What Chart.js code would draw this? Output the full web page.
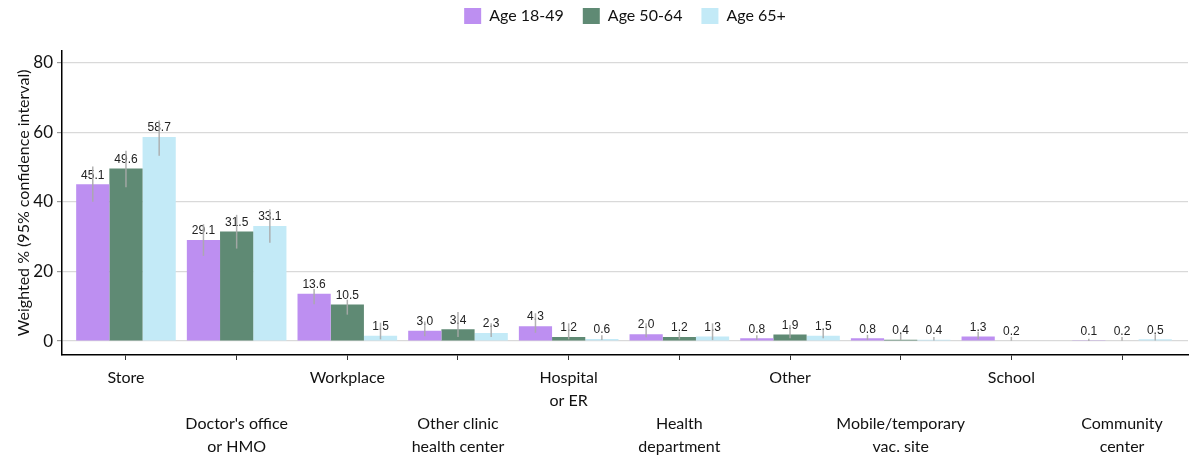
<!DOCTYPE html>
<html>
<head>
<meta charset="utf-8">
<script src="https://cdn.jsdelivr.net/npm/chart.js@4.4.1/dist/chart.umd.min.js"></script>
<style>
  html, body { margin: 0; padding: 0; background: #fff; }
</style>
</head>
<body>
<canvas id="myChart" width="1191" height="466"></canvas>
<script>
let categories = [
    ['Store'], ["Doctor's office", 'or HMO'], ['Workplace'], ['Other clinic', 'health center'],
    ['Hospital', 'or ER'], ['Health', 'department'], ['Other'], ['Mobile/temporary', 'vac. site'],
    ['School'], ['Community', 'center']
];

let age18to49 = [45.1, 29.1, 13.6, 3.0, 4.3, 2.0, 0.8, 0.8, 1.3, 0.1];
let age50to64 = [49.6, 31.5, 10.5, 3.4, 1.2, 1.2, 1.9, 0.4, 0.2, 0.2];
let age65plus = [58.7, 33.1, 1.5, 2.3, 0.6, 1.3, 1.5, 0.4, null, 0.5];

// 95% confidence interval ends
let low18to49 = [40.1, 24.5, 10.6, 1.4, 2.4, 1.1, 0.3, 0.3, 0.5, 0.0];
let high18to49 = [50.2, 33.6, 15.0, 5.6, 8.0, 5.1, 1.7, 1.8, 2.7, 0.7];
let low50to64 = [44.2, 26.6, 7.6, 1.2, 0.5, 0.5, 0.8, 0.3, 0.1, 0.1];
let high50to64 = [54.7, 36.3, 11.9, 8.4, 5.1, 2.7, 4.6, 2.1, 1.2, 1.2];
let low65plus = [53.3, 28.3, 0.5, 1.2, 0.3, 0.3, 0.8, 0.2, null, 0.2];
let high65plus = [63.4, 37.9, 5.3, 5.1, 1.7, 5.1, 3.2, 1.2, null, 2.0];

let yTicks = [0, 20, 40, 60, 80];

function points(values) {
    return values.map((v, i) => ({ x: i, y: v }));
}

// keep the legend a fixed height so the plot starts where the original does
const legendHeight = {
    id: 'legendHeight',
    beforeInit(chart) {
        const fit = chart.legend.fit;
        chart.legend.fit = function() {
            fit.bind(chart.legend)();
            this.height = 61.7;
        };
    }
};

const barExtras = {
    id: 'barExtras',
    afterDatasetsDraw(chart) {
        let c = chart.ctx;
        let y = chart.scales.y;
        c.save();
        chart.data.datasets.forEach((ds, d) => {
            chart.getDatasetMeta(d).data.forEach((bar, i) => {
                let v = ds.data[i].y;
                if (v === null) return;
                c.fillStyle = '#222';
                c.font = '12px "Liberation Sans", Arial';
                c.textAlign = 'center';
                c.textBaseline = 'middle';
                c.fillText(v.toFixed(1), bar.x, bar.y - 9);
                c.strokeStyle = 'rgba(170, 170, 170, 0.9)';
                c.lineWidth = 1.5;
                c.beginPath();
                c.moveTo(bar.x, y.getPixelForValue(ds.low[i]));
                c.lineTo(bar.x, y.getPixelForValue(ds.high[i]));
                c.stroke();
            });
        });
        c.restore();
    }
};

let ctx = document.getElementById('myChart').getContext('2d');

let myChart = new Chart(ctx, {
    type: 'bar',
    data: {
        datasets: [{
            label: 'Age 18-49',
            data: points(age18to49),
            low: low18to49,
            high: high18to49,
            backgroundColor: '#bd8ff1'
        },
        {
            label: 'Age 50-64',
            data: points(age50to64),
            low: low50to64,
            high: high50to64,
            backgroundColor: '#5f8a74'
        },
        {
            label: 'Age 65+',
            data: points(age65plus),
            low: low65plus,
            high: high65plus,
            backgroundColor: '#c3eaf7'
        }]
    },
    options: {
        responsive: false,
        animation: false,
        categoryPercentage: 0.9,
        barPercentage: 1.0,
        layout: { padding: { left: 0, right: 3, top: -11, bottom: 0 } },
        plugins: {
            tooltip: { enabled: false },
            legend: {
                position: 'top',
                fullSize: false,
                labels: {
                    boxWidth: 17,
                    boxHeight: 16,
                    padding: 19,
                    color: '#111',
                    font: { family: 'Lato', size: 16 }
                }
            }
        },
        scales: {
            x: {
                type: 'linear',
                offset: false,
                min: -0.578,
                max: 9.596,
                afterBuildTicks: scale => {
                    scale.ticks = categories.map((c, i) => ({ value: i }));
                },
                ticks: {
                    autoSkip: false,
                    maxRotation: 0,
                    padding: 6,
                    color: '#111',
                    font: { family: 'Lato', size: 16, lineHeight: 1.45 },
                    callback: value => {
                        let lines = categories[value];
                        return value % 2 === 0 ? lines : ['', ''].concat(lines);
                    }
                },
                grid: { offset: false, drawOnChartArea: false, tickLength: 5, color: '#333' },
                border: { color: '#000', width: 1.5 },
                afterFit: scale => { scale.height = 111; }
            },
            y: {
                min: -4,
                max: 83.5,
                afterBuildTicks: scale => {
                    scale.ticks = yTicks.map(v => ({ value: v }));
                },
                ticks: {
                    padding: 4,
                    color: '#111',
                    font: { family: 'Lato', size: 17 }
                },
                grid: { color: '#d9d9d9', lineWidth: 1.2, tickLength: 5, tickColor: '#999' },
                border: { color: '#000', width: 1.5 },
                title: {
                    display: true,
                    text: 'Weighted % (95% confidence interval)',
                    color: '#111',
                    font: { family: 'Lato', size: 16 },
                    padding: { top: 14, bottom: 0 }
                },
                afterFit: scale => { scale.width = 62; }
            }
        }
    },
    plugins: [legendHeight, barExtras]
});
</script>
</body>
</html>
